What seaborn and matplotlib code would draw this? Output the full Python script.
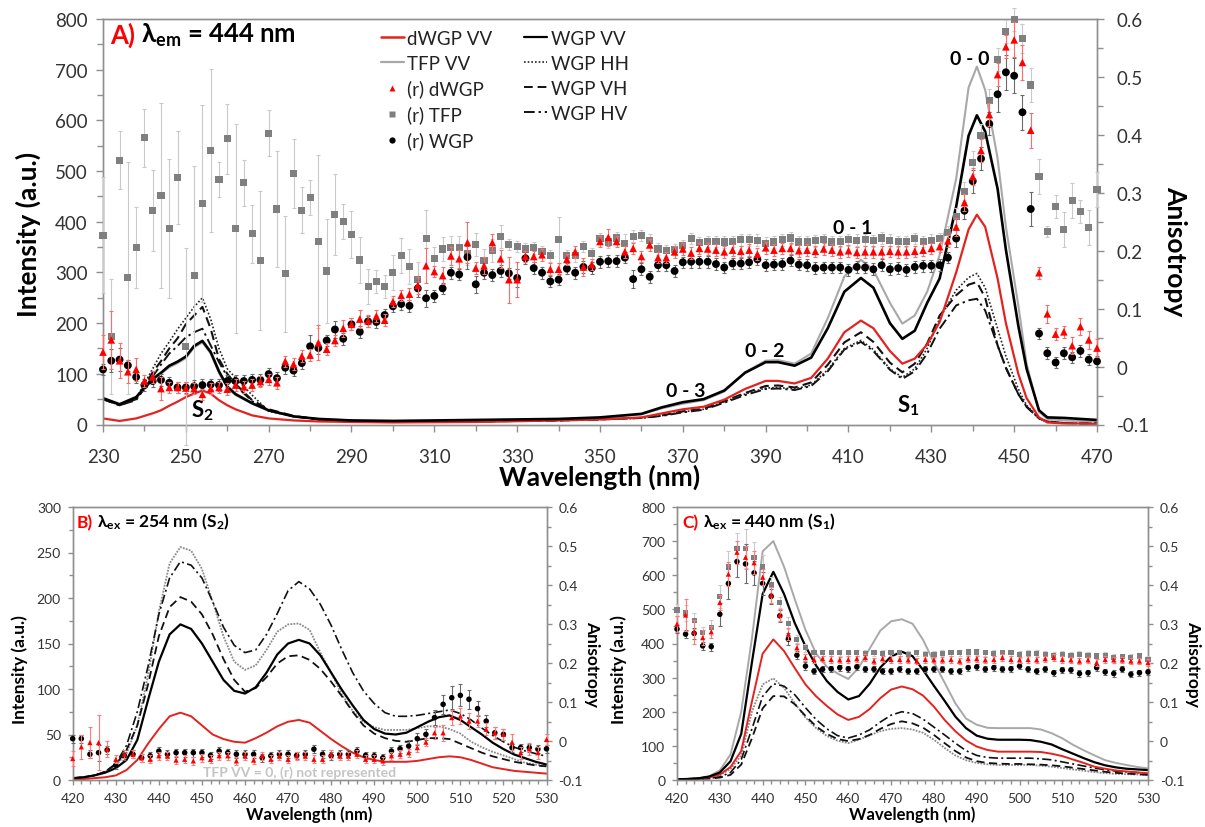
import matplotlib
matplotlib.use("Agg")
import matplotlib.pyplot as plt
from matplotlib.lines import Line2D
from matplotlib.ticker import FuncFormatter
import numpy as np
import seaborn as sns

sns.set_theme(style="white")
plt.rcParams["font.family"] = ["Lato", "DejaVu Sans"]
plt.rcParams["mathtext.fontset"] = "custom"
plt.rcParams["mathtext.rm"] = "Lato"
plt.rcParams["mathtext.it"] = "Lato:italic"
plt.rcParams["mathtext.bf"] = "Lato:bold"
plt.rcParams["mathtext.fallback"] = "stixsans"
plt.rcParams["axes.unicode_minus"] = False

RED_LINE = "#e3231f"
RED = "#ff0000"
GREY_LINE = "#a8a8a8"
GREY_MARK = "#7f7f7f"
SPINE = "#8f8f8f"
TICKTXT = "#333333"

# ---------------------------------------------------------------- panel A
# excitation spectra (lambda_em = 444 nm), intensity in a.u.
a_wl = [230, 234, 238, 242, 244, 246, 248, 250, 252, 254,
        256, 258, 260, 262, 266, 270, 276, 282, 290, 300,
        320, 340, 350, 360, 365, 370, 375, 380, 385, 390,
        393, 397, 401, 405, 409, 413, 416, 420, 423, 426,
        429, 432, 436, 439, 441, 443, 446, 448, 451, 453,
        456, 458, 462, 466, 470]
a_wgp_vv = [52, 40, 54, 90, 102, 116, 124, 134, 155, 165,
            143, 105, 75, 60, 42, 28, 16, 11, 8, 7,
            9, 11, 14, 21, 34, 44, 50, 67, 102, 123,
            123, 116, 132, 190, 262, 289, 270, 200, 169, 185,
            240, 288, 430, 570, 610, 578, 465, 345, 195, 110,
            28, 14, 13, 11, 9]
a_tfp_vv = [50, 38, 52, 88, 100, 113, 121, 131, 152, 162,
            140, 102, 73, 58, 41, 27, 16, 11, 8, 7,
            8, 10, 13, 20, 32, 41, 48, 65, 103, 126,
            127, 120, 140, 210, 292, 325, 305, 240, 199, 215,
            262, 334, 485, 665, 706, 660, 525, 390, 235, 120,
            25, 11, 8, 7, 6]
a_dwgp_vv = [12, 7, 12, 22, 28, 37, 45, 54, 61, 67,
             61, 48, 38, 30, 18, 12, 8, 6, 5, 4,
             5, 8, 10, 14, 22, 30, 35, 49, 70, 86,
             86, 81, 92, 130, 182, 205, 190, 145, 120, 130,
             158, 202, 300, 385, 414, 390, 288, 200, 100, 52,
             14, 4, 2, 2, 1]
a_wgp_hh = [50, 38, 52, 110, 140, 163, 188, 210, 232, 250,
            208, 150, 110, 92, 58, 26, 16, 10, 7, 6,
            6, 8, 10, 13, 18, 25, 30, 45, 60, 72,
            73, 70, 78, 108, 150, 166, 148, 110, 93, 110,
            150, 209, 265, 290, 298, 270, 189, 135, 70, 38,
            12, 5, 3, 2, 2]
a_wgp_vh = [50, 38, 50, 103, 125, 150, 170, 198, 215, 232,
            189, 129, 100, 80, 48, 30, 17, 10, 7, 6,
            6, 8, 10, 13, 18, 26, 31, 46, 62, 76,
            77, 73, 83, 118, 162, 182, 163, 122, 103, 120,
            160, 215, 255, 276, 281, 250, 156, 112, 60, 35,
            12, 6, 3, 2, 2]
a_wgp_hv = [50, 38, 48, 95, 118, 140, 155, 172, 182, 189,
            156, 123, 95, 77, 46, 28, 16, 10, 7, 6,
            6, 8, 10, 13, 17, 24, 29, 43, 58, 70,
            71, 68, 76, 105, 148, 163, 145, 108, 90, 105,
            140, 189, 235, 245, 248, 225, 156, 112, 60, 35,
            12, 6, 3, 2, 2]

# anisotropy r every 2 nm, 230..470
a_r_wl = list(range(230, 471, 2))
a_r_tfp = [0.227, 0.052, 0.356, 0.153, 0.206, 0.395, 0.270, 0.295, 0.239, 0.326,
           0.034, 0.157, 0.282, 0.373, 0.323, 0.393, 0.238, 0.317, 0.229, 0.183,
           0.403, 0.272, 0.160, 0.333, 0.270, 0.292, 0.216, 0.165, 0.263, 0.250,
           0.228, 0.184, 0.138, 0.147, 0.138, 0.162, 0.192, 0.173, 0.150, 0.221,
           0.186, 0.203, 0.206, 0.206, 0.195, 0.211, 0.183, 0.200, 0.224, 0.211,
           0.207, 0.203, 0.205, 0.199, 0.191, 0.219, 0.191, 0.191, 0.207, 0.195,
           0.221, 0.215, 0.222, 0.213, 0.225, 0.226, 0.218, 0.203, 0.200, 0.202,
           0.209, 0.221, 0.214, 0.216, 0.216, 0.215, 0.216, 0.219, 0.219, 0.218,
           0.213, 0.215, 0.219, 0.222, 0.215, 0.215, 0.217, 0.219, 0.215, 0.216,
           0.219, 0.218, 0.219, 0.217, 0.222, 0.218, 0.216, 0.216, 0.221, 0.216,
           0.218, 0.221, 0.232, 0.259, 0.303, 0.352, 0.399, 0.459, 0.530, 0.579,
           0.599, 0.567, 0.486, 0.328, 0.233, 0.276, 0.237, 0.287, 0.267, 0.240,
           0.306]
a_r_tfp_err = [0.10, 0.10, 0.05, 0.20, 0.07, 0.05, 0.07, 0.16, 0.12, 0.08,
               0.17, 0.19, 0.17, 0.14, 0.03, 0.06, 0.18, 0.04, 0.05, 0.12,
               0.04, 0.10, 0.10, 0.06, 0.04, 0.03, 0.15, 0.09, 0.07, 0.03,
               0.04, 0.04, 0.03, 0.02, 0.02, 0.03, 0.03, 0.03, 0.03, 0.05,
               0.02, 0.02, 0.02, 0.02, 0.02, 0.02, 0.02, 0.02, 0.02, 0.01,
               0.01, 0.01, 0.01, 0.01, 0.01, 0.04, 0.01, 0.01, 0.01, 0.01,
               0.01, 0.01, 0.01, 0.015, 0.01, 0.01, 0.01, 0.01, 0.01, 0.01,
               0.01, 0.01, 0.01, 0.01, 0.01, 0.01, 0.01, 0.01, 0.01, 0.01,
               0.01, 0.01, 0.01, 0.01, 0.01, 0.01, 0.01, 0.01, 0.01, 0.01,
               0.01, 0.01, 0.01, 0.01, 0.01, 0.01, 0.01, 0.01, 0.01, 0.01,
               0.01, 0.01, 0.01, 0.015, 0.015, 0.02, 0.02, 0.02, 0.02, 0.02,
               0.02, 0.025, 0.03, 0.03, 0.01, 0.02, 0.03, 0.03, 0.02, 0.03,
               0.03]
a_r_dwgp = [0.025, 0.046, 0.010, -0.009, -0.005, -0.025, -0.018, -0.038, -0.036, -0.036,
            -0.037, -0.038, -0.048, -0.038, -0.036, -0.039, -0.032, -0.035, -0.032, -0.026,
            -0.022, -0.028, 0.009, 0.004, 0.018, 0.020, 0.041, 0.030, 0.045, 0.066,
            0.073, 0.082, 0.079, 0.087, 0.080, 0.112, 0.123, 0.125, 0.140, 0.174,
            0.164, 0.157, 0.191, 0.186, 0.214, 0.170, 0.174, 0.214, 0.186, 0.150,
            0.150, 0.190, 0.190, 0.193, 0.168, 0.168, 0.185, 0.198, 0.172, 0.176,
            0.216, 0.223, 0.216, 0.198, 0.204, 0.190, 0.210, 0.188, 0.188, 0.198,
            0.203, 0.196, 0.204, 0.203, 0.201, 0.198, 0.201, 0.199, 0.201, 0.194,
            0.205, 0.201, 0.204, 0.204, 0.200, 0.201, 0.199, 0.203, 0.201, 0.198,
            0.200, 0.197, 0.198, 0.198, 0.198, 0.199, 0.198, 0.198, 0.199, 0.201,
            0.204, 0.207, 0.217, 0.241, 0.283, 0.328, 0.373, 0.435, 0.504, 0.552,
            0.564, 0.525, 0.408, 0.162, 0.091, 0.056, 0.060, 0.036, 0.069, 0.046,
            0.032]
a_r_dwgp_err = [0.03, 0.05, 0.03, 0.02, 0.02, 0.01, 0.01, 0.02, 0.01, 0.01,
                0.01, 0.01, 0.01, 0.01, 0.01, 0.01, 0.01, 0.01, 0.01, 0.01,
                0.01, 0.01, 0.01, 0.01, 0.01, 0.01, 0.03, 0.01, 0.01, 0.015,
                0.01, 0.015, 0.01, 0.01, 0.01, 0.01, 0.01, 0.01, 0.015, 0.03,
                0.01, 0.015, 0.015, 0.015, 0.035, 0.01, 0.015, 0.015, 0.015, 0.04,
                0.03, 0.01, 0.01, 0.01, 0.01, 0.01, 0.01, 0.01, 0.015, 0.01,
                0.01, 0.015, 0.01, 0.01, 0.01, 0.01, 0.01, 0.01, 0.01, 0.01,
                0.01, 0.01, 0.01, 0.01, 0.01, 0.01, 0.01, 0.01, 0.01, 0.01,
                0.01, 0.01, 0.01, 0.01, 0.01, 0.01, 0.01, 0.01, 0.01, 0.01,
                0.01, 0.01, 0.01, 0.01, 0.01, 0.01, 0.01, 0.01, 0.01, 0.01,
                0.01, 0.01, 0.01, 0.015, 0.015, 0.015, 0.02, 0.02, 0.02, 0.02,
                0.03, 0.03, 0.03, 0.01, 0.015, 0.01, 0.01, 0.015, 0.015, 0.015,
                0.015]
a_r_wgp = [-0.005, 0.010, 0.012, 0.002, -0.018, -0.032, -0.025, -0.023, -0.028, -0.036,
           -0.036, -0.034, -0.032, -0.031, -0.032, -0.025, -0.025, -0.025, -0.023, -0.023,
           -0.013, -0.020, -0.002, -0.007, 0.006, 0.035, 0.032, 0.045, 0.064, 0.048,
           0.073, 0.060, 0.078, 0.077, 0.089, 0.104, 0.108, 0.105, 0.135, 0.118,
           0.122, 0.135, 0.162, 0.159, 0.189, 0.142, 0.162, 0.158, 0.165, 0.161,
           0.153, 0.187, 0.170, 0.162, 0.147, 0.150, 0.169, 0.162, 0.172, 0.170,
           0.181, 0.182, 0.182, 0.188, 0.151, 0.168, 0.155, 0.175, 0.175, 0.165,
           0.180, 0.181, 0.181, 0.181, 0.177, 0.171, 0.178, 0.178, 0.180, 0.185,
           0.175, 0.176, 0.177, 0.183, 0.176, 0.175, 0.170, 0.171, 0.171, 0.171,
           0.167, 0.172, 0.171, 0.168, 0.175, 0.168, 0.170, 0.167, 0.172, 0.174,
           0.174, 0.175, 0.188, 0.221, 0.269, 0.320, 0.359, 0.419, 0.470, 0.508,
           0.502, 0.439, 0.272, 0.057, 0.023, 0.007, 0.023, 0.016, 0.027, 0.012,
           0.009]
a_r_wgp_err = [0.01, 0.02, 0.02, 0.01, 0.01, 0.01, 0.01, 0.01, 0.01, 0.01,
               0.01, 0.01, 0.01, 0.01, 0.01, 0.01, 0.01, 0.01, 0.01, 0.01,
               0.01, 0.01, 0.01, 0.01, 0.01, 0.02, 0.01, 0.01, 0.015, 0.01,
               0.01, 0.01, 0.01, 0.01, 0.01, 0.01, 0.01, 0.01, 0.015, 0.015,
               0.01, 0.01, 0.01, 0.01, 0.02, 0.015, 0.01, 0.01, 0.01, 0.01,
               0.015, 0.01, 0.01, 0.01, 0.01, 0.01, 0.01, 0.01, 0.01, 0.01,
               0.01, 0.01, 0.01, 0.01, 0.015, 0.01, 0.01, 0.01, 0.01, 0.01,
               0.01, 0.01, 0.01, 0.01, 0.01, 0.01, 0.01, 0.01, 0.01, 0.01,
               0.01, 0.01, 0.01, 0.01, 0.01, 0.01, 0.01, 0.01, 0.01, 0.01,
               0.01, 0.01, 0.01, 0.01, 0.01, 0.01, 0.01, 0.01, 0.01, 0.01,
               0.01, 0.01, 0.01, 0.015, 0.015, 0.02, 0.02, 0.02, 0.03, 0.03,
               0.03, 0.03, 0.03, 0.01, 0.01, 0.01, 0.01, 0.01, 0.01, 0.01,
               0.01]

# ---------------------------------------------------------------- panels B, C
# emission spectra, 420..530 nm every 2.5 nm
bc_wl = list(np.arange(420, 530.1, 2.5))
b_wgp_vv = [2, 3, 5, 8, 13, 22, 44, 88, 130, 160,
            171, 166, 150, 130, 110, 98, 95, 102, 118, 138,
            150, 154, 150, 137, 118, 99, 82, 66, 56, 51,
            50, 52, 58, 64, 69, 71, 66, 58, 50, 41,
            34, 28, 24, 20, 17]
b_dwgp_vv = [1, 1, 2, 3, 5, 11, 22, 40, 56, 70,
             74, 70, 60, 50, 45, 42, 41, 46, 52, 59,
             64, 66, 63, 54, 45, 37, 30, 25, 22, 20,
             20, 20, 21, 23, 25, 26, 25, 22, 18, 14,
             12, 10, 9, 8, 7]
b_wgp_hh = [2, 3, 5, 9, 16, 29, 60, 115, 185, 238,
            256, 252, 232, 196, 158, 130, 121, 126, 143, 163,
            171, 172, 165, 140, 118, 94, 76, 64, 58, 55,
            55, 55, 57, 59, 59, 56, 51, 42, 36, 31,
            27, 23, 19, 17, 15]
b_wgp_hv = [2, 3, 5, 9, 18, 38, 75, 125, 182, 222,
            240, 236, 222, 196, 168, 148, 140, 143, 160, 183,
            208, 218, 210, 193, 170, 143, 118, 98, 84, 74,
            70, 70, 71, 73, 75, 77, 73, 66, 57, 49,
            42, 36, 32, 29, 26]
b_wgp_vh = [2, 3, 5, 9, 17, 33, 60, 105, 158, 190,
            201, 196, 182, 160, 133, 110, 97, 101, 113, 128,
            136, 137, 132, 122, 108, 92, 75, 60, 51, 46,
            43, 42, 44, 46, 46, 45, 40, 35, 30, 26,
            23, 20, 18, 16, 15]

c_tfp_vv = [2, 3, 5, 11, 28, 75, 200, 415, 670, 700,
            625, 530, 440, 370, 332, 312, 296, 330, 385, 438,
            465, 471, 458, 410, 345, 285, 225, 180, 162, 153,
            152, 152, 152, 152, 148, 137, 122, 103, 87, 72,
            58, 50, 44, 38, 34]
c_wgp_vv = [2, 3, 5, 10, 22, 55, 135, 345, 545, 610,
            545, 460, 392, 335, 290, 258, 236, 246, 282, 330,
            362, 376, 363, 322, 276, 232, 186, 152, 130, 121,
            118, 118, 118, 117, 112, 104, 90, 77, 64, 52,
            43, 37, 33, 31, 29]
c_dwgp_vv = [2, 3, 5, 8, 16, 38, 85, 230, 370, 412,
             378, 328, 280, 245, 217, 192, 176, 185, 208, 240,
             265, 274, 266, 247, 215, 176, 143, 116, 98, 88,
             83, 83, 83, 83, 82, 77, 70, 60, 50, 39,
             33, 28, 25, 22, 20]
c_wgp_hh = [2, 3, 5, 8, 14, 32, 72, 200, 280, 298,
            270, 225, 183, 152, 129, 115, 108, 118, 131, 143,
            150, 152, 148, 138, 118, 94, 72, 58, 50, 46,
            44, 44, 44, 44, 42, 39, 35, 31, 27, 23,
            20, 18, 17, 16, 15]
c_wgp_hv = [1, 2, 3, 5, 9, 22, 60, 150, 245, 282,
            275, 250, 212, 177, 150, 130, 123, 132, 147, 170,
            190, 200, 195, 178, 155, 132, 108, 86, 72, 66,
            64, 64, 64, 64, 62, 59, 53, 47, 41, 35,
            30, 26, 24, 22, 20]
c_wgp_vh = [1, 2, 3, 4, 7, 15, 45, 122, 210, 246,
            245, 222, 188, 157, 135, 120, 114, 120, 132, 150,
            164, 172, 166, 153, 132, 108, 85, 66, 55, 50,
            48, 47, 47, 46, 45, 43, 40, 36, 32, 28,
            24, 21, 19, 17, 15]

# anisotropy every 2 nm, 420..530
bc_r_wl = list(range(420, 531, 2))
b_r_wgp = [0.006, 0.006, -0.034, -0.030, -0.023, -0.062, -0.038, -0.034, -0.043, -0.038,
           -0.026, -0.034, -0.030, -0.030, -0.030, -0.030, -0.037, -0.026, -0.030, -0.034,
           -0.034, -0.034, -0.043, -0.038, -0.034, -0.034, -0.037, -0.034, -0.021, -0.034,
           -0.038, -0.034, -0.034, -0.026, -0.037, -0.038, -0.043, -0.026, -0.020, -0.013,
           0.006, 0.017, 0.060, 0.094, 0.111, 0.117, 0.107, 0.083, 0.051, 0.021,
           0.017, -0.017, -0.017, -0.017, -0.021, -0.020]
b_r_wgp_err = [0.01, 0.01, 0.01, 0.02, 0.01, 0.01, 0.01, 0.01, 0.01, 0.01,
               0.01, 0.01, 0.01, 0.01, 0.01, 0.01, 0.01, 0.01, 0.01, 0.01,
               0.01, 0.01, 0.01, 0.01, 0.01, 0.01, 0.01, 0.01, 0.01, 0.01,
               0.01, 0.01, 0.01, 0.01, 0.01, 0.01, 0.01, 0.01, 0.01, 0.015,
               0.015, 0.015, 0.02, 0.025, 0.03, 0.028, 0.025, 0.02, 0.015, 0.015,
               0.015, 0.01, 0.01, 0.01, 0.01, 0.01]
b_r_dwgp = [-0.045, -0.015, -0.004, -0.004, -0.021, -0.047, -0.034, -0.034, -0.043, -0.047,
            -0.038, -0.038, -0.049, -0.047, -0.051, -0.043, -0.047, -0.038, -0.038, -0.051,
            -0.038, -0.049, -0.038, -0.047, -0.038, -0.047, -0.038, -0.038, -0.047, -0.047,
            -0.034, -0.038, -0.038, -0.034, -0.047, -0.047, -0.051, -0.038, -0.034, -0.030,
            -0.017, -0.003, 0.021, 0.021, 0.060, 0.064, 0.051, 0.051, 0.030, 0.021,
            0.017, -0.003, -0.030, -0.020, -0.030, 0.004]
b_r_dwgp_err = [0.02, 0.03, 0.04, 0.07, 0.02, 0.01, 0.01, 0.01, 0.01, 0.01,
                0.01, 0.01, 0.01, 0.01, 0.01, 0.01, 0.01, 0.01, 0.01, 0.01,
                0.01, 0.01, 0.01, 0.01, 0.01, 0.01, 0.01, 0.01, 0.01, 0.01,
                0.01, 0.01, 0.01, 0.01, 0.01, 0.01, 0.01, 0.01, 0.01, 0.01,
                0.01, 0.01, 0.015, 0.02, 0.02, 0.02, 0.02, 0.015, 0.015, 0.015,
                0.015, 0.02, 0.015, 0.015, 0.015, 0.015]

c_r_tfp = [0.336, 0.328, 0.308, 0.278, 0.291, 0.371, 0.446, 0.493, 0.493, 0.471,
           0.446, 0.400, 0.355, 0.302, 0.261, 0.239, 0.226, 0.226, 0.226, 0.226,
           0.226, 0.226, 0.225, 0.226, 0.225, 0.226, 0.226, 0.222, 0.226, 0.222,
           0.222, 0.225, 0.226, 0.226, 0.228, 0.228, 0.226, 0.225, 0.226, 0.226,
           0.222, 0.225, 0.225, 0.222, 0.220, 0.222, 0.220, 0.222, 0.220, 0.218,
           0.220, 0.214, 0.216, 0.214, 0.218, 0.209]
c_r_tfp_err = [0.015, 0.02, 0.02, 0.015, 0.02, 0.03, 0.04, 0.04, 0.05, 0.04,
               0.03, 0.02, 0.015, 0.015, 0.01, 0.01, 0.008, 0.008, 0.008, 0.008,
               0.008, 0.008, 0.008, 0.008, 0.008, 0.008, 0.008, 0.008, 0.008, 0.008,
               0.008, 0.008, 0.008, 0.008, 0.008, 0.008, 0.008, 0.008, 0.008, 0.008,
               0.008, 0.008, 0.008, 0.008, 0.008, 0.008, 0.008, 0.008, 0.008, 0.008,
               0.008, 0.008, 0.008, 0.008, 0.008, 0.008]
c_r_dwgp = [0.300, 0.323, 0.280, 0.265, 0.280, 0.355, 0.428, 0.484, 0.471, 0.457,
            0.420, 0.374, 0.323, 0.274, 0.239, 0.214, 0.209, 0.211, 0.209, 0.208,
            0.209, 0.211, 0.214, 0.205, 0.211, 0.209, 0.209, 0.208, 0.205, 0.209,
            0.208, 0.208, 0.209, 0.205, 0.211, 0.211, 0.208, 0.209, 0.214, 0.209,
            0.208, 0.209, 0.208, 0.211, 0.214, 0.209, 0.208, 0.205, 0.208, 0.201,
            0.209, 0.208, 0.208, 0.205, 0.205, 0.201]
c_r_dwgp_err = [0.02, 0.04, 0.03, 0.02, 0.015, 0.02, 0.03, 0.03, 0.03, 0.03,
                0.02, 0.02, 0.015, 0.015, 0.01, 0.01, 0.008, 0.008, 0.008, 0.008,
                0.008, 0.008, 0.008, 0.008, 0.008, 0.008, 0.008, 0.008, 0.008, 0.008,
                0.008, 0.008, 0.008, 0.008, 0.008, 0.008, 0.008, 0.008, 0.008, 0.008,
                0.008, 0.008, 0.008, 0.008, 0.008, 0.008, 0.008, 0.008, 0.008, 0.008,
                0.008, 0.008, 0.008, 0.008, 0.008, 0.008]
c_r_wgp = [0.287, 0.274, 0.276, 0.244, 0.242, 0.325, 0.404, 0.460, 0.454, 0.431,
           0.404, 0.371, 0.321, 0.261, 0.220, 0.192, 0.179, 0.184, 0.185, 0.188,
           0.185, 0.190, 0.184, 0.184, 0.179, 0.179, 0.184, 0.179, 0.179, 0.184,
           0.184, 0.184, 0.179, 0.179, 0.188, 0.190, 0.184, 0.188, 0.184, 0.185,
           0.192, 0.184, 0.179, 0.184, 0.175, 0.182, 0.182, 0.173, 0.175, 0.188,
           0.177, 0.173, 0.184, 0.171, 0.175, 0.177]
c_r_wgp_err = [0.01, 0.01, 0.015, 0.01, 0.01, 0.03, 0.04, 0.04, 0.05, 0.03,
               0.03, 0.02, 0.015, 0.015, 0.01, 0.01, 0.008, 0.008, 0.008, 0.008,
               0.008, 0.008, 0.008, 0.008, 0.008, 0.008, 0.008, 0.008, 0.008, 0.008,
               0.008, 0.008, 0.008, 0.008, 0.008, 0.008, 0.008, 0.008, 0.008, 0.008,
               0.008, 0.008, 0.008, 0.008, 0.008, 0.008, 0.008, 0.008, 0.008, 0.008,
               0.008, 0.008, 0.008, 0.008, 0.008, 0.008]

r_ticks = [-0.1, 0.0, 0.1, 0.2, 0.3, 0.4, 0.5, 0.6]

# ---------------------------------------------------------------- styles
LINE_STYLE = {
    "TFP VV": dict(color=GREY_LINE, ls="-"),
    "WGP HH": dict(color="#222222", ls=(0, (1.0, 1.2))),
    "WGP HH small": dict(color="#8a8a8a", ls=(0, (1.0, 0.7))),
    "WGP VH": dict(color="#111111", ls=(0, (4.5, 2.5))),
    "WGP HV": dict(color="#111111", ls=(0, (5.5, 2.0, 1.2, 2.0))),
    "dWGP VV": dict(color=RED_LINE, ls="-"),
    "WGP VV": dict(color="black", ls="-"),
}


def draw_curves(ax, x, series, widths):
    for name, y in series:
        st = LINE_STYLE[name]
        sns.lineplot(x=x, y=y, ax=ax, color=st["color"], linestyle=st["ls"],
                     linewidth=widths[name], legend=False, errorbar=None, sort=False)


def draw_aniso(ax, x, r, err, marker, color, ecolor, size, z):
    ax.errorbar(x, r, yerr=err, fmt="none", ecolor=ecolor, elinewidth=0.8,
                capsize=1.2, capthick=0.8, zorder=z, clip_on=False)
    sns.scatterplot(x=x, y=r, ax=ax, marker=marker, color=color, s=size,
                    edgecolor="none", linewidth=0, zorder=z + 0.5, legend=False,
                    clip_on=False)


def fmt_r(v, _):
    return "0" if abs(v) < 1e-9 else f"{v:.1f}"


def style_pair(ax, ax2, xmaj, xmin, ymaj, ymin, ylim, lsize, tlen, xpad, ypad, rpad):
    for a in (ax, ax2):
        for sp in a.spines.values():
            sp.set_visible(True)
            sp.set_color(SPINE)
            sp.set_linewidth(1.0)
    ax.set_xlim(xmaj[0], xmaj[-1])
    ax.set_ylim(*ylim)
    ax2.set_ylim(-0.1, 0.6)
    ax.set_xticks(xmaj)
    ax.set_xticks(xmin, minor=True)
    ax.set_yticks(ymaj)
    ax.set_yticks(ymin, minor=True)
    ax2.set_yticks(r_ticks)
    ax2.set_yticks([-0.05, 0.05, 0.15, 0.25, 0.35, 0.45, 0.55], minor=True)
    ax2.yaxis.set_major_formatter(FuncFormatter(fmt_r))
    ax.tick_params(axis="x", which="both", bottom=True, top=False, direction="out",
                   color=SPINE, width=1.0, labelcolor=TICKTXT, labelsize=lsize, pad=xpad)
    ax.tick_params(axis="y", which="both", left=True, right=False, direction="out",
                   color=SPINE, width=1.0, labelcolor=TICKTXT, labelsize=lsize, pad=ypad)
    ax2.tick_params(axis="y", which="both", right=True, left=False, direction="out",
                    color=SPINE, width=1.0, labelcolor=TICKTXT, labelsize=lsize, pad=rpad)
    for a in (ax, ax2):
        a.tick_params(which="major", length=tlen)
        a.tick_params(which="minor", length=tlen * 0.8)
    ax.set_xlabel("")
    ax.set_ylabel("")
    ax2.set_ylabel("")


W, H = 1205, 828
fig = plt.figure(figsize=(W / 100, H / 100), dpi=100)


def px_axes(left, top, right, bottom):
    return fig.add_axes([left / W, 1 - bottom / H, (right - left) / W, (bottom - top) / H])


# ================================================================ panel A
axA = px_axes(103, 20, 1097, 425.5)
axA2 = axA.twinx()
draw_curves(axA, a_wl, [("TFP VV", a_tfp_vv), ("WGP HV", a_wgp_hv), ("WGP VH", a_wgp_vh),
                        ("WGP HH", a_wgp_hh), ("dWGP VV", a_dwgp_vv), ("WGP VV", a_wgp_vv)],
            {"TFP VV": 1.5, "WGP HV": 1.4, "WGP VH": 1.5, "WGP HH": 1.2,
             "dWGP VV": 1.6, "WGP VV": 1.9})
draw_aniso(axA2, a_r_wl, a_r_tfp, a_r_tfp_err, "s", GREY_MARK, "#c9c9c9", 26, 3)
draw_aniso(axA2, a_r_wl, a_r_wgp, a_r_wgp_err, "o", "black", "#6a6a6a", 32, 4)
draw_aniso(axA2, a_r_wl, a_r_dwgp, a_r_dwgp_err, "^", RED, "#ff6a6a", 30, 5)
style_pair(axA, axA2, list(range(230, 471, 20)), list(range(230, 471, 10)),
           list(range(0, 801, 100)), list(range(0, 801, 50)), (0, 800),
           13.5, 5, 12, 6, 9)
axA.set_xlabel("Wavelength (nm)", fontsize=19, fontweight="bold", color="black")
axA.xaxis.set_label_coords(0.5, -0.097)
axA.set_ylabel("Intensity (a.u.)", fontsize=19, fontweight="bold", color="black")
axA.yaxis.set_label_coords(-0.062, 0.47)
axA2.set_ylabel("Anisotropy", fontsize=19, fontweight="bold", color="black", rotation=270)
axA2.yaxis.set_label_coords(1.091, 0.43)

tA = axA.text(0.007, 0.962, "A)", transform=axA.transAxes, color=RED, fontsize=18.5,
              fontweight="bold", va="center", ha="left")
axA.annotate(r"$\mathbf{\lambda_{em}}$ = 444 nm", xy=(1, 0), xycoords=tA,
             xytext=(4, 3.6), textcoords="offset points", va="baseline", ha="left",
             fontsize=18.5, fontweight="bold", color="black")

peak_labels = [("0 - 0", 439.2, 722), ("0 - 1", 410.9, 388), ("0 - 2", 389.8, 146),
               ("0 - 3", 370.6, 67)]
for txt, px, py in peak_labels:
    axA.text(px, py, txt, fontsize=14, fontweight="bold", ha="center", va="center",
             color="black")
axA.text(253.9, 28, r"S$_{\mathbf{2}}$", fontsize=16, fontweight="bold", ha="center",
         va="center", color="black")
axA.text(424.4, 38, r"S$_{\mathbf{1}}$", fontsize=16, fontweight="bold", ha="center",
         va="center", color="black")

handles = [
    Line2D([], [], color=RED_LINE, lw=1.8, label="dWGP VV"),
    Line2D([], [], color=GREY_LINE, lw=1.6, label="TFP VV"),
    Line2D([], [], color=RED, marker="^", ls="none", ms=4.5, mec="none", label="(r) dWGP"),
    Line2D([], [], color=GREY_MARK, marker="s", ls="none", ms=4.2, mec="none", label="(r) TFP"),
    Line2D([], [], color="black", marker="o", ls="none", ms=4.5, mec="none", label="(r) WGP"),
    Line2D([], [], color="black", lw=1.6, label="WGP VV"),
    Line2D([], [], color="#222222", lw=1.2, ls=(0, (1.0, 1.2)), label="WGP HH"),
    Line2D([], [], color="#111111", lw=1.4, ls=(0, (4.5, 2.5)), label="WGP VH"),
    Line2D([], [], color="#111111", lw=1.4, ls=(0, (5.5, 2.0, 1.2, 2.0)), label="WGP HV"),
]
leg = axA2.legend(handles=handles, ncol=2, loc="upper left",
                  bbox_to_anchor=(381 / W, 1 - 31 / H), bbox_transform=fig.transFigure,
                  frameon=False, fontsize=13.5, handlelength=1.2, handletextpad=0.2,
                  labelspacing=0.42, columnspacing=1.7, borderpad=0, borderaxespad=0)
for t in leg.get_texts():
    t.set_color("#222222")

# ================================================================ panel B
axB = px_axes(72.7, 508, 546.5, 781)
axB2 = axB.twinx()
draw_curves(axB, bc_wl, [("WGP HH small", b_wgp_hh), ("WGP HV", b_wgp_hv),
                         ("WGP VH", b_wgp_vh), ("dWGP VV", b_dwgp_vv), ("WGP VV", b_wgp_vv)],
            {"WGP HV": 1.2, "WGP VH": 1.3, "WGP HH small": 1.3, "dWGP VV": 1.4,
             "WGP VV": 1.6})
draw_aniso(axB2, bc_r_wl, b_r_wgp, b_r_wgp_err, "o", "black", "#6a6a6a", 16, 4)
draw_aniso(axB2, bc_r_wl, b_r_dwgp, b_r_dwgp_err, "^", RED, "#ff7a7a", 14, 5)
style_pair(axB, axB2, list(range(420, 531, 10)), list(range(420, 531, 2)),
           list(range(0, 301, 50)), list(range(0, 301, 25)), (0, 300),
           10, 3.5, 5, 5, 5)
axB.set_xlabel("Wavelength (nm)", fontsize=12, fontweight="bold", color="black")
axB.xaxis.set_label_coords(0.5, -0.093)
axB.set_ylabel("Intensity (a.u.)", fontsize=12.5, fontweight="bold", color="black")
axB.yaxis.set_label_coords(-0.094, 0.41)
axB2.set_ylabel("Anisotropy", fontsize=12.5, fontweight="bold", color="black", rotation=270)
axB2.yaxis.set_label_coords(1.113, 0.43)
tB = axB.text(0.008, 0.945, "B)", transform=axB.transAxes, color=RED, fontsize=12.5,
              fontweight="bold", va="center", ha="left")
axB.annotate(r"$\mathbf{\lambda_{ex}}$ = 254 nm (S$_{\mathbf{2}}$)", xy=(1, 0), xycoords=tB,
             xytext=(3, 2.6), textcoords="offset points", va="baseline", ha="left",
             fontsize=12.5, fontweight="bold", color="black")
axB.text(472.7, 9, "TFP VV = 0, (r) not represented", fontsize=10, fontweight="bold",
         color="#c4c4c4", ha="center", va="center")

# ================================================================ panel C
axC = px_axes(677, 508, 1148, 781)
axC2 = axC.twinx()
draw_curves(axC, bc_wl, [("TFP VV", c_tfp_vv), ("WGP HH small", c_wgp_hh), ("WGP HV", c_wgp_hv),
                         ("WGP VH", c_wgp_vh), ("dWGP VV", c_dwgp_vv), ("WGP VV", c_wgp_vv)],
            {"TFP VV": 1.4, "WGP HV": 1.2, "WGP VH": 1.3, "WGP HH small": 1.3,
             "dWGP VV": 1.4, "WGP VV": 1.6})
draw_aniso(axC2, bc_r_wl, c_r_tfp, c_r_tfp_err, "s", GREY_MARK, "#c9c9c9", 14, 3)
draw_aniso(axC2, bc_r_wl, c_r_wgp, c_r_wgp_err, "o", "black", "#6a6a6a", 16, 4)
draw_aniso(axC2, bc_r_wl, c_r_dwgp, c_r_dwgp_err, "^", RED, "#ff7a7a", 14, 5)
style_pair(axC, axC2, list(range(420, 531, 10)), list(range(420, 531, 2)),
           list(range(0, 801, 100)), list(range(0, 801, 50)), (0, 800),
           10, 3.5, 5, 5, 5)
axC.set_xlabel("Wavelength (nm)", fontsize=12, fontweight="bold", color="black")
axC.xaxis.set_label_coords(0.5, -0.093)
axC.set_ylabel("Intensity (a.u.)", fontsize=12.5, fontweight="bold", color="black")
axC.yaxis.set_label_coords(-0.106, 0.41)
axC2.set_ylabel("Anisotropy", fontsize=12.5, fontweight="bold", color="black", rotation=270)
axC2.yaxis.set_label_coords(1.113, 0.43)
tC = axC.text(0.012, 0.945, "C)", transform=axC.transAxes, color=RED, fontsize=12.5,
              fontweight="bold", va="center", ha="left")
axC.annotate(r"$\mathbf{\lambda_{ex}}$ = 440 nm (S$_{\mathbf{1}}$)", xy=(1, 0), xycoords=tC,
             xytext=(3, 2.6), textcoords="offset points", va="baseline", ha="left",
             fontsize=12.5, fontweight="bold", color="black")

fig.savefig("out.png", dpi=100, facecolor="white")
